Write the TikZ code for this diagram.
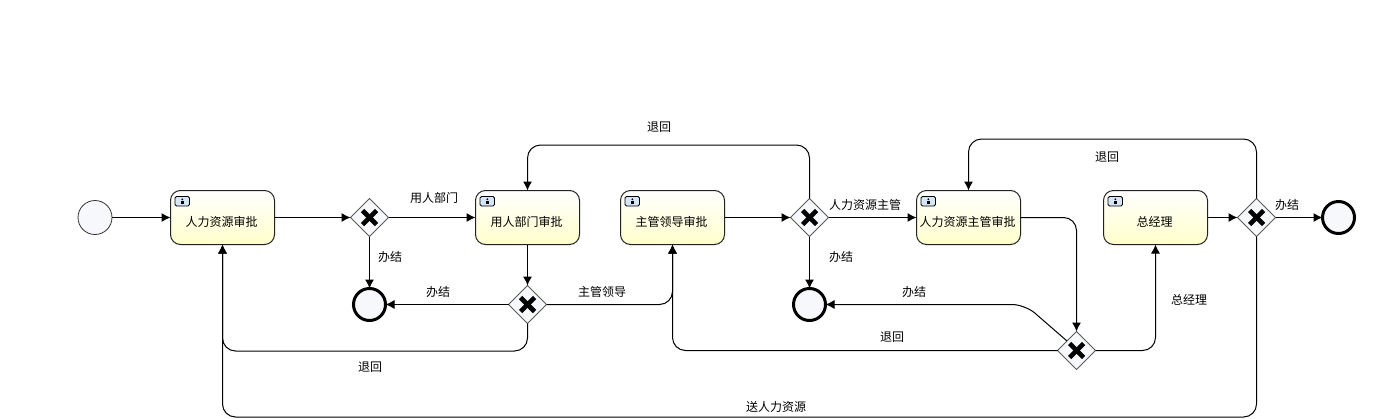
\documentclass[tikz,border=0pt]{standalone}
\usepackage{fontspec}
\setmainfont{Noto Sans CJK SC}
\usetikzlibrary{arrows.meta,shapes.geometric}

\definecolor{taskline}{HTML}{222222}
\definecolor{taskfill}{HTML}{FFFFCC}
\definecolor{eventfill}{HTML}{F6F8FC}
\definecolor{iconfill}{HTML}{D5E6F7}

\tikzset{
  flow/.style={draw=black, line width=1pt, rounded corners=13pt, -{Latex[length=9pt,width=9pt]}},
  tasktext/.style={font=\fontsize{12pt}{12pt}\selectfont, inner sep=0pt, xshift=-1pt, yshift=-4pt},
  flowlabel/.style={font=\fontsize{12pt}{12pt}\selectfont, inner sep=0pt},
  taskbox/.style={rectangle, draw=taskline, line width=1pt, rounded corners=10pt, outer sep=0pt,
    minimum width=104pt, minimum height=54pt, top color=white, bottom color=taskfill,
    path picture={
      \draw[black, line width=0.8pt, rounded corners=1.5pt, fill=iconfill]
        ([shift={(4.5,6)}]path picture bounding box.north west) rectangle
        ([shift={(19,15.5)}]path picture bounding box.north west);
      \fill[black] ([shift={(11.8,8.8)}]path picture bounding box.north west) circle (1pt);
      \fill[black, sharp corners] ([shift={(10.3,10.4)}]path picture bounding box.north west) rectangle
        ([shift={(13.3,13.6)}]path picture bounding box.north west);
    }},
  gatebox/.style={diamond, aspect=1, draw=black!65, line width=0.8pt, fill=eventfill, outer sep=0pt,
    inner sep=0pt, minimum width=38pt, minimum height=38pt,
    path picture={
      \draw[black, line width=4.6pt]
        ([shift={(-7,-7)}]path picture bounding box.center) -- ([shift={(7,7)}]path picture bounding box.center);
      \draw[black, line width=4.6pt]
        ([shift={(-7,7)}]path picture bounding box.center) -- ([shift={(7,-7)}]path picture bounding box.center);
    }},
  startevent/.style={circle, draw=black!80, line width=0.8pt, fill=eventfill, outer sep=0pt,
    inner sep=0pt, minimum size=34pt},
  endevent/.style={circle, draw=black, line width=3pt, fill=eventfill, outer sep=0pt,
    inner sep=0pt, minimum size=32pt},
}

\begin{document}
\begin{tikzpicture}[x=1pt,y=-1pt]
  \useasboundingbox (0,0) rectangle (1381,418);

  % events
  \node[startevent] (start) at (95,217.5) {};
  \node[endevent] (endA) at (369.5,304.5) {};
  \node[endevent] (endB) at (809.5,304.5) {};
  \node[endevent] (endC) at (1338.5,217.5) {};

  % tasks
  \node[taskbox, label={[tasktext]center:人力资源审批}] (hrTask) at (222.5,217.5) {};
  \node[taskbox, label={[tasktext]center:用人部门审批}] (deptTask) at (527.5,217.5) {};
  \node[taskbox, label={[tasktext]center:主管领导审批}] (leadTask) at (672.5,217.5) {};
  \node[taskbox, label={[tasktext]center:人力资源主管审批}] (hrLeadTask) at (968.5,217.5) {};
  \node[taskbox, label={[tasktext]center:总经理}] (gmTask) at (1155.5,217.5) {};

  % gateways
  \node[gatebox] (gateA) at (369.5,217.5) {};
  \node[gatebox] (gateB) at (527.5,304.5) {};
  \node[gatebox] (gateC) at (809.5,217.5) {};
  \node[gatebox] (gateD) at (1076.5,350.5) {};
  \node[gatebox] (gateE) at (1256.5,217.5) {};

  % bends of the long connectors
  \coordinate (bendB) at (222.5,351);
  \coordinate (bendC) at (527.5,145);
  \coordinate (bendD) at (672.5,350.5);
  \coordinate (bendE) at (1025,304.5);
  \coordinate (bendF) at (968.5,139);
  \coordinate (bendG) at (222.5,417);

  % straight flows
  \draw[flow] (start) -- (hrTask);
  \draw[flow] (hrTask) -- (gateA);
  \draw[flow] (gateA) -- (deptTask);
  \draw[flow] (gateA) -- (endA);
  \draw[flow] (deptTask) -- (gateB);
  \draw[flow] (gateB) -- (endA);
  \draw[flow] (leadTask) -- (gateC);
  \draw[flow] (gateC) -- (hrLeadTask);
  \draw[flow] (gateC) -- (endB);
  \draw[flow] (gmTask) -- (gateE);
  \draw[flow] (gateE) -- (endC);

  % routed flows
  \draw[flow] (gateB.east) -| (leadTask.south);
  \draw[flow] (gateB.south) |- (bendB) -- (hrTask.south);
  \draw[flow] (gateC.north) |- (bendC) -- (deptTask.north);
  \draw[flow] (hrLeadTask.east) -| (gateD.north);
  \draw[flow] (gateD.north west) -- (bendE) -- (endB.east);
  \draw[flow] (gateD.west) -- (bendD) -- (leadTask.south);
  \draw[flow] (gateD.east) -| (gmTask.south);
  \draw[flow] (gateE.north) |- (bendF) -- (hrLeadTask.north);
  \draw[flow] (gateE.south) |- (bendG) -- (hrTask.south);

  % labels
  \node[flowlabel] (lblA) at (434,197.5) {用人部门};
  \node[flowlabel] (lblB) at (390,256.5) {办结};
  \node[flowlabel] (lblC) at (438,291.5) {办结};
  \node[flowlabel] (lblD) at (602,291.5) {主管领导};
  \node[flowlabel] (lblE) at (370,367.5) {退回};
  \node[flowlabel] (lblF) at (659,127.5) {退回};
  \node[flowlabel] (lblG) at (865,204.5) {人力资源主管};
  \node[flowlabel] (lblH) at (841,256.5) {办结};
  \node[flowlabel] (lblI) at (914,291.5) {办结};
  \node[flowlabel] (lblJ) at (892,337.5) {退回};
  \node[flowlabel] (lblK) at (1189,299.5) {总经理};
  \node[flowlabel] (lblL) at (1287,204.5) {办结};
  \node[flowlabel] (lblM) at (1107,157.5) {退回};
  \node[flowlabel] (lblN) at (776,406.5) {送人力资源};
\end{tikzpicture}
\end{document}
